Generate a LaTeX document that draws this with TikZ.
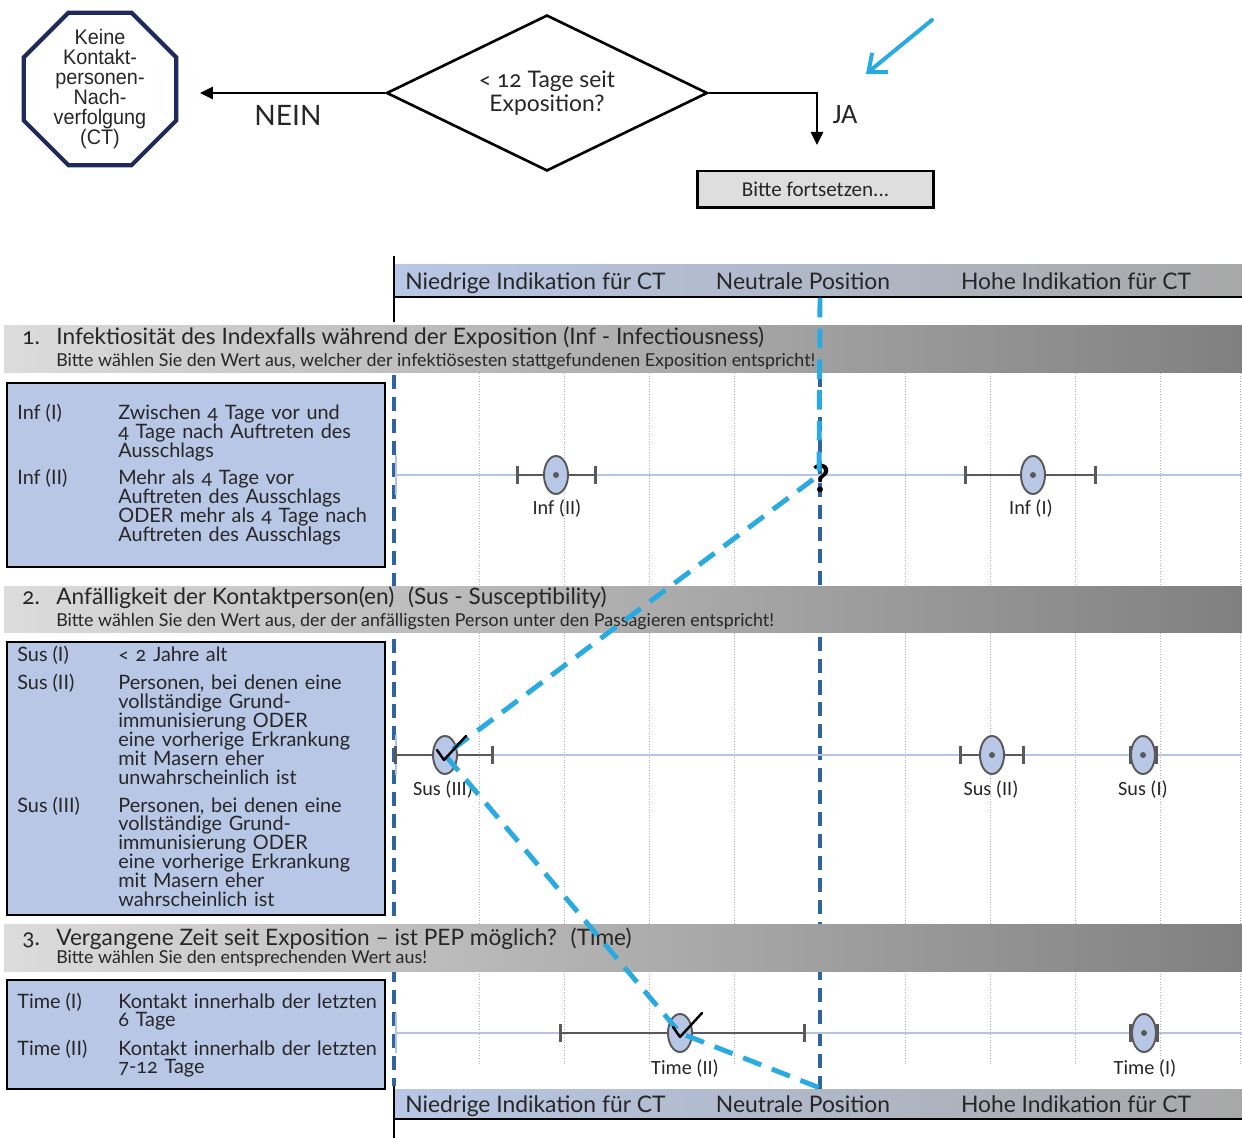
\documentclass[tikz,border=0pt]{standalone}
\usepackage{fontspec}
\setmainfont{Lato}[Numbers=OldStyle]
\newfontfamily\calfont{Carlito}
\newfontfamily\narrowfont[FakeStretch=0.94]{Liberation Sans}
\usetikzlibrary{shapes.geometric, arrows.meta, calc}

\newcommand{\setfs}[2]{\fontsize{#1}{#2}\selectfont}

\definecolor{boxblue}{RGB}{184,199,230}
\definecolor{bandlight}{RGB}{220,220,220}
\definecolor{banddark}{RGB}{128,128,128}
\definecolor{hdgray}{RGB}{168,168,168}
\definecolor{pathblue}{RGB}{41,171,226}
\definecolor{lineblue}{RGB}{46,100,160}
\definecolor{markgray}{RGB}{89,89,89}
\definecolor{navy}{RGB}{31,42,92}
\definecolor{axisblue}{RGB}{180,196,228}
\definecolor{boxgray}{RGB}{222,222,222}
\definecolor{textgray}{RGB}{38,38,38}

\tikzset{
  octa/.style={regular polygon, regular polygon sides=8,
    draw=navy, line width=2.4pt, minimum size=3.3cm, inner sep=0pt},
  octatext/.style={align=center, inner sep=0pt, text=textgray,
    font=\narrowfont\setfs{12pt}{11.4pt}},
  decision/.style={diamond, aspect=2.06, draw, line width=1.5pt, minimum width=6.42cm,
    minimum height=3.12cm, inner sep=0pt, align=center, text=textgray,
    font=\setfs{13pt}{14pt}},
  contbox/.style={draw, line width=1.7pt, fill=boxgray, minimum width=4.74cm,
    minimum height=0.74cm, inner sep=0pt, text=textgray, font=\calfont\setfs{12pt}{14pt}},
  flow/.style={line width=1.5pt, -{Triangle[length=0.26cm,width=0.24cm]}},
  hdtext/.style={anchor=base, inner sep=0pt, text=textgray, font=\setfs{13pt}{15pt}},
  sectitle/.style={anchor=base west, inner sep=0pt, text=textgray, font=\setfs{12.9pt}{14pt}},
  secsub/.style={anchor=base west, inner sep=0pt, text=textgray, font=\setfs{10.15pt}{12pt}},
  infobox/.style={draw=black, line width=1.2pt, fill=boxblue},
  entry/.style={anchor=base west, inner sep=0pt, text=textgray, font=\setfs{11.3pt}{10.8pt}},
  entrytext/.style={entry, text width=6.6cm, align=left},
  ratemark/.style={ellipse, draw=markgray, fill=boxblue, line width=1.1pt,
    minimum width=0.48cm, minimum height=0.76cm, inner sep=0pt},
  errbar/.style={draw=markgray, line width=1.7pt, {Bar[width=0.36cm]}-{Bar[width=0.36cm]}},
  mlabel/.style={anchor=base, inner sep=0pt, text=textgray, font=\calfont\setfs{11.5pt}{13pt}},
  grid line/.style={gray!60, densely dotted, line width=0.5pt},
  neutral/.style={lineblue, line width=2.1pt, dash pattern=on 8pt off 4.5pt},
  choice/.style={pathblue, line width=2.8pt, dash pattern=on 11pt off 6.5pt},
  checkmark/.style={black, line width=1.4pt, line join=round, line cap=round},
}

\begin{document}
\begin{tikzpicture}[x=0.02cm, y=-0.02cm]
  \useasboundingbox (0,0) rectangle (1242,1138);

  % decision at the top
  \node[octa] (stop) at (100,89) {};
  \node[octatext] (stoptext) at (stop.center) {Keine\\Kontakt-\\personen-\\Nach-\\verfolgung\\(CT)};
  \node[decision] (expo) at (547,93) {< 12 Tage seit\\Exposition?};
  \node[contbox] (cont) at (815.5,189.5) {Bitte fortsetzen...};
  \coordinate (neinend) at (200,93);
  \coordinate (jaend) at (817,145);
  \draw[flow] (expo.west) -- (neinend);
  \draw[flow] (expo.east) -| (jaend);
  \node[text=textgray, font=\setfs{16pt}{18pt}] (nein) at (288,115) {NEIN};
  \node[text=textgray, font=\calfont\setfs{16pt}{18pt}] (ja) at (845,115) {JA};
  \coordinate (hintA) at (932,20);
  \coordinate (hintB) at (866,74);
  \draw[pathblue, line width=2.3pt, line cap=round, -{Straight Barb[length=0.3cm,width=0.5cm]}] (hintA) -- (hintB);

  % scale header, top and bottom
  \shade[left color=boxblue, right color=hdgray] (395,265) rectangle (1242,296);
  \draw[line width=1.7pt] (394,297) -- (1242,297);
  \draw[line width=1.5pt] (394,256) -- (394,322);
  \node[hdtext, anchor=base west] (lowtop) at (405,290) {Niedrige Indikation für CT};
  \node[hdtext] (neutop) at (803,290) {Neutrale Position};
  \node[hdtext] (hightop) at (1076,290) {Hohe Indikation für CT};
  \shade[left color=boxblue, right color=hdgray] (395,1089) rectangle (1242,1118);
  \draw[line width=1.7pt] (394,1119) -- (1242,1119);
  \draw[line width=1.5pt] (394,1079) -- (394,1138);
  \node[hdtext, anchor=base west] (lowbot) at (405,1112) {Niedrige Indikation für CT};
  \node[hdtext] (neubot) at (803,1112) {Neutrale Position};
  \node[hdtext] (highbot) at (1076,1112) {Hohe Indikation für CT};

  % dotted grid in the three rows
  \foreach \k in {1,2,3,4,6,7,8,9} {
    \draw[grid line] ({394+85.2*\k},373) -- ({394+85.2*\k},587);
    \draw[grid line] ({394+85.2*\k},633) -- ({394+85.2*\k},924);
    \draw[grid line] ({394+85.2*\k},971) -- ({394+85.2*\k},1065);
  }
  \draw[grid line] (1240,373) -- (1240,587);
  \draw[grid line] (1240,633) -- (1240,924);
  \draw[grid line] (1240,971) -- (1240,1065);

  % left edge and neutral position
  \draw[neutral] (394,375) -- (394,1086);
  \draw[neutral] (820,373) -- (820,1089);

  % axes
  \foreach \y in {475,755,1033} {
    \draw[axisblue, line width=1.2pt] (395,\y) -- (1242,\y);
    \draw[axisblue, line width=0.8pt] (396,\y-20) -- (396,\y+20);
  }

  % section bands
  \shade[left color=bandlight, right color=banddark] (4,326) rectangle (1242,373);
  \shade[left color=bandlight, right color=banddark] (4,587) rectangle (1242,633);
  \shade[left color=bandlight, right color=banddark] (4,924) rectangle (1242,971);
  \node[sectitle] (num1) at (22,345) {1.};
  \node[sectitle] (tit1) at (56,345) {Infektiosität des Indexfalls während der Exposition (Inf - Infectiousness)};
  \node[secsub] (sub1) at (56,367) {Bitte wählen Sie den Wert aus, welcher der infektiösesten stattgefundenen Exposition entspricht!};
  \node[sectitle] (num2) at (22,605) {2.};
  \node[sectitle] (tit2) at (56,605) {Anfälligkeit der Kontaktperson(en)\hspace{0.6em}(Sus - Susceptibility)};
  \node[secsub] (sub2) at (56,627) {Bitte wählen Sie den Wert aus, der der anfälligsten Person unter den Passagieren entspricht!};
  \node[sectitle] (num3) at (22,945) {3.};
  \node[sectitle] (tit3) at (56,945) {Vergangene Zeit seit Exposition – ist PEP möglich?\hspace{0.6em}(Time)};
  \node[secsub] (sub3) at (56,963) {Bitte wählen Sie den entsprechenden Wert aus!};

  % description boxes
  \draw[infobox] (7,383) rectangle (385,567);
  \node[entry] (infIlab) at (17,420) {Inf (I)};
  \node[entrytext] (infItxt) at (118,420) {Zwischen 4 Tage vor und\\4 Tage nach Auftreten des\\Ausschlags};
  \node[entry] (infIIlab) at (17,485) {Inf (II)};
  \node[entrytext] (infIItxt) at (118,485) {Mehr als 4 Tage vor\\Auftreten des Ausschlags\\ODER mehr als 4 Tage nach\\Auftreten des Ausschlags};

  \draw[infobox] (7,642) rectangle (385,915);
  \node[entry] (susIlab) at (17,662) {Sus (I)};
  \node[entrytext] (susItxt) at (118,662) {< 2 Jahre alt};
  \node[entry] (susIIlab) at (17,690) {Sus (II)};
  \node[entrytext] (susIItxt) at (118,690) {Personen, bei denen eine\\vollständige Grund-\\immunisierung ODER\\eine vorherige Erkrankung\\mit Masern eher\\unwahrscheinlich ist};
  \node[entry] (susIIIlab) at (17,812) {Sus (III)};
  \node[entrytext] (susIIItxt) at (118,812) {Personen, bei denen eine\\vollständige Grund-\\immunisierung ODER\\eine vorherige Erkrankung\\mit Masern eher\\wahrscheinlich ist};

  \draw[infobox] (7,980) rectangle (385,1089);
  \node[entry] (timeIlab) at (17,1008) {Time (I)};
  \node[entrytext] (timeItxt) at (118,1008) {Kontakt innerhalb der letzten\\6 Tage};
  \node[entry] (timeIIlab) at (17,1055) {Time (II)};
  \node[entrytext] (timeIItxt) at (118,1055) {Kontakt innerhalb der letzten\\7-12 Tage};

  % rating positions
  \coordinate (infII) at (556,475);
  \coordinate (infI) at (1033,475);
  \coordinate (susIII) at (445,755);
  \coordinate (susII) at (992,755);
  \coordinate (susI) at (1143,755);
  \coordinate (timeII) at (680,1033);
  \coordinate (timeI) at (1144,1033);

  \draw[errbar] ($(infII)+(-40,0)$) -- ($(infII)+(41,0)$);
  \draw[errbar] ($(infI)+(-69,0)$) -- ($(infI)+(64,0)$);
  \draw[errbar] ($(susIII)+(-51,0)$) -- ($(susIII)+(49,0)$);
  \draw[errbar] ($(susII)+(-33,0)$) -- ($(susII)+(33,0)$);
  \draw[errbar] ($(susI)+(-14,0)$) -- ($(susI)+(15,0)$);
  \draw[errbar] ($(timeII)+(-121,0)$) -- ($(timeII)+(126,0)$);
  \draw[errbar] ($(timeI)+(-15,0)$) -- ($(timeI)+(15,0)$);

  \node[ratemark] (infIIm) at (infII) {};
  \node[ratemark] (infIm) at (infI) {};
  \node[ratemark] (susIIIm) at (susIII) {};
  \node[ratemark] (susIIm) at (susII) {};
  \node[ratemark] (susIm) at (susI) {};
  \node[ratemark] (timeIIm) at (timeII) {};
  \node[ratemark] (timeIm) at (timeI) {};
  \foreach \m in {infIIm,infIm,susIIm,susIm,timeIm}
    \fill[markgray] (\m) circle (0.06cm);

  \node[mlabel] (infIIlbl) at (557,515) {Inf (II)};
  \node[mlabel] (infIlbl) at (1031,515) {Inf (I)};
  \node[mlabel] (susIIIlbl) at (443,795) {Sus (III)};
  \node[mlabel] (susIIlbl) at (991,795) {Sus (II)};
  \node[mlabel] (susIlbl) at (1143,795) {Sus (I)};
  \node[mlabel] (timeIIlbl) at (685,1074) {Time (II)};
  \node[mlabel] (timeIlbl) at (1145,1074) {Time (I)};

  % chosen path
  \coordinate (pathtop) at (820,298);
  \coordinate (infturn) at (819,475);
  \coordinate (pathend) at (820,1088);
  \node[anchor=base, inner sep=0pt, font=\bfseries\setfs{22pt}{24pt}] (qmark) at ($(infturn)+(2,18)$) {?};
  \draw[choice] (pathtop) -- (infturn) -- (susIII) -- (timeII) -- (pathend);
  \draw[checkmark] ($(susIII)+(-8,-5)$) -- ($(susIII)+(-1,5)$) -- ($(susIII)+(21,-19)$);
  \draw[checkmark] ($(timeII)+(-7,-6)$) -- ($(timeII)+(0,4)$) -- ($(timeII)+(22,-20)$);
\end{tikzpicture}
\end{document}
